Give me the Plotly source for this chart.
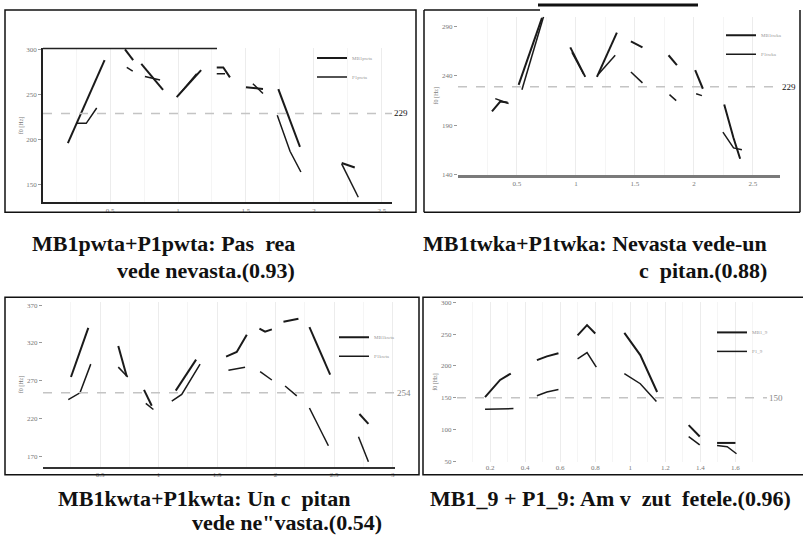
import plotly.graph_objects as go

W, H = 803, 545

# ---- panel 1: MB1pwta + P1pwta (time in s, f0 in Hz)
p1_mb1_t = [[0.19, 0.46], [0.61, 0.67], [0.73, 0.89], [0.99, 1.17],
            [1.285, 1.333, 1.382], [1.50, 1.625], [1.738, 1.897], [2.204, 2.30]]
p1_mb1_f0 = [[196, 288], [300, 288], [284, 255], [247, 277],
             [280, 280, 269], [258, 256], [256, 192], [174, 169]]
p1_p1_t = [[0.255, 0.325, 0.402], [0.623, 0.667], [0.757, 0.868], [1.002, 1.137],
           [1.285, 1.346], [1.551, 1.625], [1.730, 1.824, 1.904], [2.204, 2.326]]
p1_p1_f0 = [[218, 218, 235], [280, 276], [270, 266], [249, 273],
            [273, 273], [262, 251], [227, 187, 164], [173, 136]]
p1_xticks = [0.5, 1, 1.5, 2, 2.5]
p1_yticks = [150, 200, 250, 300]
p1_ref = 229

# ---- panel 2: MB1twka + P1twka
p2_mb1_t = [[0.288, 0.358, 0.42], [0.514, 0.712], [0.952, 1.079], [1.178, 1.347],
            [1.466, 1.564], [1.785, 1.856], [2.011, 2.076], [2.257, 2.336, 2.392]]
p2_mb1_f0 = [[204, 214, 213], [231, 299], [269, 239], [239, 284],
             [275, 269], [261, 251], [246, 227], [211, 177, 156]]
p2_p1_t = [[0.316, 0.429], [0.542, 0.725], [0.966, 1.064], [1.192, 1.333],
           [1.466, 1.564], [1.793, 1.850], [2.019, 2.068], [2.246, 2.336, 2.407]]
p2_p1_f0 = [[217, 212], [226, 300], [264, 242], [242, 261],
            [244, 233], [221, 215], [222, 220], [183, 167, 165]]
p2_xticks = [0.5, 1, 1.5, 2, 2.5]
p2_yticks = [140, 190, 240, 290]
p2_ref = 229

# ---- panel 3: MB1kwta + P1kwta
p3_mb1_t = [[0.252, 0.40], [0.656, 0.728], [0.876, 0.942], [1.147, 1.321],
            [1.577, 1.668, 1.754], [1.862, 1.910, 1.968], [2.067, 2.195],
            [2.289, 2.466], [2.716, 2.793]]
p3_mb1_f0 = [[275, 340], [316, 276], [258, 237], [257, 298],
             [302, 308, 331], [339, 335, 338], [348, 352],
             [341, 278], [226, 213]]
p3_p1_t = [[0.229, 0.329, 0.421], [0.656, 0.737], [0.891, 0.956], [1.113, 1.198, 1.355],
           [1.597, 1.739], [1.868, 1.968], [2.081, 2.181], [2.289, 2.451], [2.708, 2.793]]
p3_p1_f0 = [[245, 254, 292], [288, 275], [240, 232], [243, 252, 292],
            [284, 288], [282, 271], [263, 250], [234, 184], [196, 163]]
p3_xticks = [0.5, 1, 1.5, 2, 2.5, 3]
p3_yticks = [170, 220, 270, 320, 370]
p3_ref = 254

# ---- panel 4: MB1_9 + P1_9
p4_mb1_t = [[0.171, 0.257, 0.318], [0.467, 0.524, 0.590], [0.699, 0.753, 0.80],
            [0.966, 1.057, 1.153], [1.333, 1.396], [1.495, 1.60]]
p4_mb1_f0 = [[151, 178, 188], [209, 215, 220], [248, 264, 251],
             [252, 217, 159], [107, 89], [79, 79]]
p4_p1_t = [[0.171, 0.253, 0.333], [0.467, 0.524, 0.590], [0.699, 0.753, 0.806],
           [0.966, 1.057, 1.149], [1.333, 1.396], [1.495, 1.553, 1.606]]
p4_p1_f0 = [[132, 132, 133], [153, 159, 163], [211, 221, 198],
            [188, 172, 144], [89, 76], [75, 73, 62]]
p4_xticks = [0.2, 0.4, 0.6, 0.8, 1.0, 1.2, 1.4, 1.6, 1.8]
p4_yticks = [50, 100, 150, 200, 250, 300]
p4_ref = 150

names = [("MB1pwta", "P1pwta"), ("MB1twka", "P1twka"),
         ("MB1kwta", "P1kwta"), ("MB1_9", "P1_9")]

SERIF = "Times New Roman, Liberation Serif, DejaVu Serif, serif"


def join(segs):
    out = []
    for s in segs:
        out += list(s) + [None]
    return out


def px(a, b):
    return [a / W, b / W]


def py(top, bottom):
    return [1 - bottom / H, 1 - top / H]


panels = [
    dict(mb1=(p1_mb1_t, p1_mb1_f0), p1=(p1_p1_t, p1_p1_f0), xt=p1_xticks, yt=p1_yticks,
         ref=p1_ref, xr=[0.007, 2.574], yr=[130.3, 301.1], xd=(43, 392), yd=(46, 202),
         leg=(312, 41), xline=("#222", 1.5), yline=True),
    dict(mb1=(p2_mb1_t, p2_mb1_f0), p1=(p2_p1_t, p2_p1_f0), xt=p2_xticks, yt=p2_yticks,
         ref=p2_ref, xr=[0.0, 2.73], yr=[139.7, 300], xd=(458, 780), yd=(14, 174),
         leg=(721, 18), xline=("#7a7a7a", 2.5), yline=False),
    dict(mb1=(p3_mb1_t, p3_mb1_f0), p1=(p3_p1_t, p3_p1_f0), xt=p3_xticks, yt=p3_yticks,
         ref=p3_ref, xr=[0.013, 3.02], yr=[156, 374], xd=(43, 395), yd=(303, 470),
         leg=(334, 324), xline=("#333", 1.5), yline=False),
    dict(mb1=(p4_mb1_t, p4_mb1_f0), p1=(p4_p1_t, p4_p1_f0), xt=p4_xticks, yt=p4_yticks,
         ref=p4_ref, xr=[0.011, 1.78], yr=[49, 300.2], xd=(457, 767), yd=(303, 465),
         leg=(712, 319), xline=None, yline=False),
]

fig = go.Figure()
tickfont = dict(family=SERIF, size=7, color="#777")

for i, pn in enumerate(panels, start=1):
    sfx = "" if i == 1 else str(i)
    for (key, width), nm in zip((("mb1", 2.0), ("p1", 1.5)), names[i - 1]):
        t, f0 = pn[key]
        fig.add_trace(go.Scatter(
            x=join(t), y=join(f0), mode="lines", name=nm,
            line=dict(color="#1a1a1a", width=width),
            xaxis="x" + sfx, yaxis="y" + sfx, legend="legend" + sfx,
            hoverinfo="skip"))

    xl = pn["xline"]
    fig.update_layout(**{
        "xaxis" + sfx: dict(
            domain=px(*pn["xd"]), range=pn["xr"], anchor="y" + sfx,
            tickvals=pn["xt"], tickfont=tickfont, ticks="",
            showgrid=True, gridcolor="#ececec", gridwidth=1,
            minor=dict(dtick=0.25 if i < 4 else 0.1, showgrid=True, gridcolor="#f5f5f5"),
            zeroline=False, showline=xl is not None,
            linecolor=xl[0] if xl else None, linewidth=xl[1] if xl else None),
        "yaxis" + sfx: dict(
            domain=py(*pn["yd"]), range=pn["yr"], anchor="x" + sfx,
            tickvals=pn["yt"], tickfont=tickfont, ticks="outside", ticklen=3,
            tickcolor="#999", showgrid=False, zeroline=False,
            showline=pn["yline"], linecolor="#222", linewidth=1.5,
            title=dict(text="f0 [Hz]", font=dict(family=SERIF, size=6, color="#777"),
                       standoff=2)),
        "legend" + sfx: dict(
            x=pn["leg"][0] / W, y=1 - pn["leg"][1] / H, xanchor="left", yanchor="top",
            bgcolor="rgba(0,0,0,0)", font=dict(family=SERIF, size=5, color="#999"),
            itemwidth=30, tracegroupgap=0),
    })

    # mean f0 reference line and its label on the right
    fig.add_shape(type="line", xref=f"x{sfx} domain", yref="y" + sfx,
                  x0=0, x1=1, y0=pn["ref"], y1=pn["ref"],
                  line=dict(color="#c4c4c4", width=1.5, dash="dash"))
    fig.add_annotation(xref=f"x{sfx} domain", yref="y" + sfx, x=1.0, y=pn["ref"],
                       xshift=1, borderpad=0, text=str(pn["ref"]), showarrow=False,
                       xanchor="left",
                       font=dict(family=SERIF, size=9,
                                 color="#111" if i < 3 else "#888"))

# panel frames (scanned figure boxes)
frame = dict(color="#111", width=1.5)
fig.add_shape(type="rect", xref="paper", yref="paper",
              x0=5 / W, x1=416 / W, y0=1 - 212 / H, y1=1 - 7 / H, line=frame)
for x0, y0, x1, y1 in [(424, 7, 424, 212), (424, 212, 800, 212), (800, 7, 800, 212),
                       (424, 7, 540, 7)]:
    fig.add_shape(type="line", xref="paper", yref="paper",
                  x0=x0 / W, x1=x1 / W, y0=1 - y0 / H, y1=1 - y1 / H, line=frame)
fig.add_shape(type="line", xref="paper", yref="paper", x0=538 / W, x1=698 / W,
              y0=1 - 2 / H, y1=1 - 2 / H, line=dict(color="#111", width=3))
fig.add_shape(type="line", xref="paper", yref="paper", x0=43 / W, x1=217 / W,
              y0=1 - 46 / H, y1=1 - 46 / H, line=dict(color="#222", width=1.5))
fig.add_shape(type="rect", xref="paper", yref="paper",
              x0=5 / W, x1=419 / W, y0=1 - 478 / H, y1=1 - 298 / H, line=frame)
fig.add_shape(type="rect", xref="paper", yref="paper",
              x0=423 / W, x1=806 / W, y0=1 - 478 / H, y1=1 - 298 / H, line=frame)

# captions
cap_font = dict(family=SERIF, size=22, color="#111")
captions = [
    ("<b>MB1pwta+P1pwta: Pas\u00a0\u00a0rea</b>", 297, 244, "right"),
    ("<b>vede nevasta.(0.93)</b>", 297, 271, "right"),
    ("<b>MB1twka+P1twka: Nevasta vede-un</b>", 769, 244, "right"),
    ("<b>c\u00a0\u00a0pitan.(0.88)</b>", 769, 271, "right"),
    ("<b>MB1kwta+P1kwta: Un c\u00a0\u00a0pitan</b>", 56, 502, "left"),
    ("<b>vede ne\"vasta.(0.54)</b>", 190, 526, "left"),
    ("<b>MB1_9 + P1_9: Am v\u00a0\u00a0zut\u00a0\u00a0fetele.(0.96)</b>", 428, 502, "left"),
]
for text, x, y, anchor in captions:
    fig.add_annotation(xref="paper", yref="paper", x=x / W, y=1 - y / H, text=text,
                       showarrow=False, xanchor=anchor, yanchor="middle", font=cap_font)

fig.update_layout(
    width=W, height=H,
    margin=dict(l=0, r=0, t=0, b=0),
    paper_bgcolor="white", plot_bgcolor="white",
    font=dict(family=SERIF, size=8, color="#333"),
    showlegend=True,
)

# drop the browser's default 8px body margin so the figure fills the window
fig.write_html("out.html", config={"displayModeBar": False},
               post_script="document.body.style.margin='0';")
